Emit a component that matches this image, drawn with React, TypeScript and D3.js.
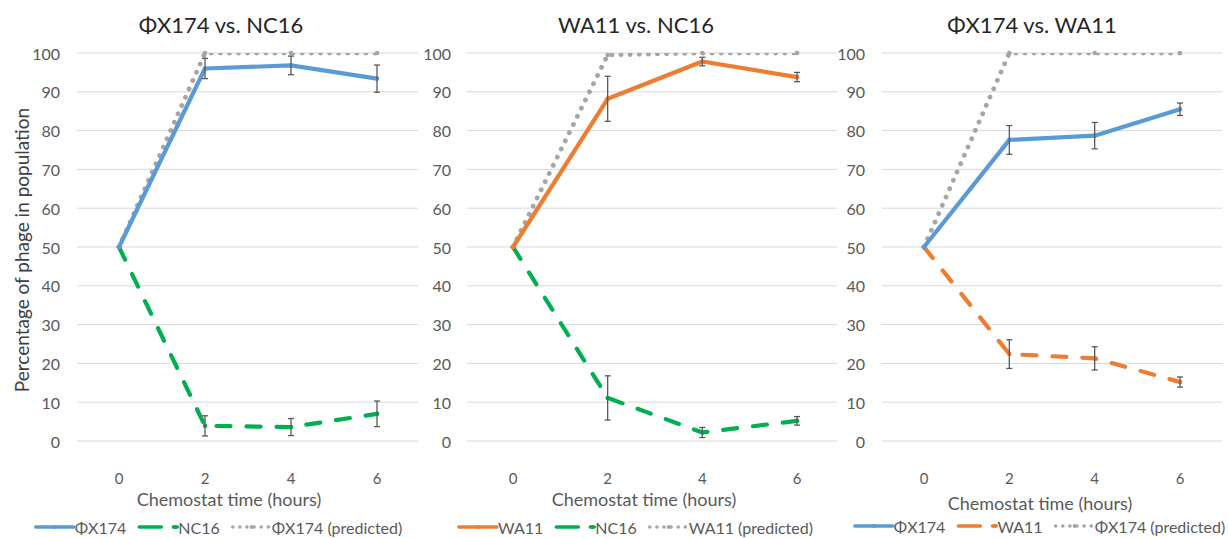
import React, { useEffect, useRef } from "react";
import * as d3 from "d3";

// chemostat time points (hours)
const times = ["0", "2", "4", "6"];
const yTicks = [0, 10, 20, 30, 40, 50, 60, 70, 80, 90, 100];

// panel 1: ΦX174 vs. NC16
const p1Phi = [50, 96, 96.8, 93.4];
const p1PhiErr = [0, 2.6, 2.4, 3.5];
const p1Nc = [50, 3.9, 3.6, 7.0];
const p1NcErr = [0, 2.6, 2.2, 3.3];
const p1Pred = [50, 100, 100, 100];

// panel 2: WA11 vs. NC16
const p2Wa = [50, 88.2, 97.8, 93.8];
const p2WaErr = [0, 5.8, 1.1, 1.2];
const p2Nc = [50, 11.1, 2.2, 5.2];
const p2NcErr = [0, 5.7, 1.3, 1.1];
const p2Pred = [50, 99.5, 100, 100];

// panel 3: ΦX174 vs. WA11
const p3Phi = [50, 77.6, 78.7, 85.5];
const p3PhiErr = [0, 3.7, 3.4, 1.6];
const p3Wa = [50, 22.4, 21.3, 15.2];
const p3WaErr = [0, 3.7, 3.0, 1.3];
const p3Pred = [50, 100, 100, 100];

const BLUE = "#5b9bd5";
const ORANGE = "#ed7d31";
const GREEN = "#00b050";
const GRAY = "#a5a5a5";
const FONT = "Lato, 'Open Sans', sans-serif";

const solid = { dash: null, cap: "round" };
const dashed = { dash: "14 16", cap: "round" };
const dotted = { dash: "0.1 9", cap: "round" };

const panels = [
  {
    title: "ΦX174 vs. NC16",
    x0: 119, x6: 377, gridL: 77, gridR: 418, labelX: 60, center: 221, legendCenter: 219,
    axisTitleY: 499, legendY: 527,
    series: [
      { name: "ΦX174", values: p1Phi, err: p1PhiErr, color: BLUE, ...solid },
      { name: "NC16", values: p1Nc, err: p1NcErr, color: GREEN, ...dashed },
      { name: "ΦX174 (predicted)", values: p1Pred, err: null, color: GRAY, ...dotted },
    ],
  },
  {
    title: "WA11 vs. NC16",
    x0: 513, x6: 797, gridL: 467, gridR: 837, labelX: 451, center: 636, legendCenter: 636,
    axisTitleY: 499, legendY: 527,
    series: [
      { name: "WA11", values: p2Wa, err: p2WaErr, color: ORANGE, ...solid },
      { name: "NC16", values: p2Nc, err: p2NcErr, color: GREEN, ...dashed },
      { name: "WA11 (predicted)", values: p2Pred, err: null, color: GRAY, ...dotted },
    ],
  },
  {
    title: "ΦX174 vs. WA11",
    x0: 924, x6: 1180, gridL: 882, gridR: 1222, labelX: 865, center: 1032, legendCenter: 1040,
    axisTitleY: 503, legendY: 526,
    series: [
      { name: "ΦX174", values: p3Phi, err: p3PhiErr, color: BLUE, ...solid },
      { name: "WA11", values: p3Wa, err: p3WaErr, color: ORANGE, ...dashed },
      { name: "ΦX174 (predicted)", values: p3Pred, err: null, color: GRAY, ...dotted },
    ],
  },
];

export default function App() {
  const ref = useRef<SVGSVGElement>(null);

  useEffect(() => {
    const svg = d3.select(ref.current);
    svg.selectAll("*").remove();

    const y = d3.scaleLinear().domain([0, 100]).range([441, 53]);

    // y axis title (only left panel)
    svg.append("text")
      .attr("transform", `translate(21, 250) rotate(-90)`)
      .attr("text-anchor", "middle")
      .attr("dominant-baseline", "central")
      .style("font-family", FONT).style("font-size", "19px").attr("fill", "#404040")
      .text("Percentage of phage in population");

    panels.forEach((p, pi) => {
      const g = svg.append("g");
      const x = d3.scalePoint().domain(times).range([p.x0, p.x6]);

      const clipId = `clip${pi}`;
      g.append("clipPath").attr("id", clipId)
        .append("rect").attr("x", p.gridL - 10).attr("y", y(100))
        .attr("width", p.gridR - p.gridL + 20).attr("height", 430);

      // gridlines
      g.selectAll(".grid").data(yTicks).join("line")
        .attr("x1", p.gridL).attr("x2", p.gridR)
        .attr("y1", d => y(d)).attr("y2", d => y(d))
        .attr("stroke", "#d9d9d9").attr("stroke-width", 1);

      // y tick labels
      g.selectAll(".ylab").data(yTicks).join("text")
        .attr("x", p.labelX).attr("y", d => y(d))
        .attr("text-anchor", "end").attr("dominant-baseline", "central")
        .style("font-family", FONT).style("font-size", "16px").attr("fill", "#595959")
        .text(d => d);

      // x tick labels
      g.selectAll(".xlab").data(times).join("text")
        .attr("x", d => x(d)).attr("y", 478)
        .attr("text-anchor", "middle").attr("dominant-baseline", "central")
        .style("font-family", FONT).style("font-size", "15px").attr("fill", "#595959")
        .text(d => d);

      // axis title
      g.append("text")
        .attr("x", p.center + 8).attr("y", p.axisTitleY)
        .attr("text-anchor", "middle").attr("dominant-baseline", "central")
        .style("font-family", FONT).style("font-size", "18px").attr("fill", "#595959")
        .text("Chemostat time (hours)");

      // chart title
      g.append("text")
        .attr("x", p.center).attr("y", 24)
        .attr("text-anchor", "middle").attr("dominant-baseline", "central")
        .style("font-family", FONT).style("font-size", "22px").attr("fill", "#262626")
        .text(p.title);

      const line = d3.line<number>().x((d, i) => x(times[i])!).y(d => y(d));

      // predicted drawn first, then the rest so the first series sits on top
      const order = [2, 1, 0];
      order.forEach(si => {
        const s = p.series[si];
        g.append("path")
          .attr("d", line(s.values))
          .attr("clip-path", `url(#${clipId})`)
          .attr("fill", "none").attr("stroke", s.color)
          .attr("stroke-width", si === 2 ? 4.8 : 4.2)
          .attr("stroke-linecap", s.cap).attr("stroke-linejoin", "round")
          .attr("stroke-dasharray", s.dash);
        g.selectAll(null).data(s.values).join("circle")
          .attr("cx", (d, i) => x(times[i])!).attr("cy", d => y(d))
          .attr("r", 2.3).attr("fill", s.color);
      });

      // error bars
      p.series.forEach(s => {
        if (!s.err) return;
        const eb = s.values.map((v, i) => ({ t: times[i], v, e: s.err![i] })).filter(d => d.e > 0);
        const eg = g.append("g").attr("stroke", "#595959").attr("stroke-width", 1.3);
        eg.selectAll(null).data(eb).join("line")
          .attr("x1", d => x(d.t)!).attr("x2", d => x(d.t)!)
          .attr("y1", d => y(d.v - d.e)).attr("y2", d => y(d.v + d.e));
        eg.selectAll(null).data(eb.flatMap(d => [d.v - d.e, d.v + d.e].map(v => ({ t: d.t, v }))))
          .join("line")
          .attr("x1", d => x(d.t)! - 3).attr("x2", d => x(d.t)! + 3)
          .attr("y1", d => y(d.v)).attr("y2", d => y(d.v));
      });

      // legend
      const lg = g.append("g");
      const sample = 38;
      let cursor = 0;
      p.series.forEach(s => {
        const ig = lg.append("g").attr("transform", `translate(${cursor},0)`);
        ig.append("line").attr("x1", 0).attr("x2", sample).attr("y1", 0).attr("y2", 0)
          .attr("stroke", s.color).attr("stroke-width", 3.5)
          .attr("stroke-linecap", s.cap)
          .attr("stroke-dasharray", s.dash === dashed.dash ? "22 12" : s.dash === dotted.dash ? "0.1 7" : null);
        ig.append("circle").attr("cx", s.dash === dashed.dash ? sample - 2 : sample / 2).attr("cy", 0)
          .attr("r", 2).attr("fill", s.color);
        const t = ig.append("text").attr("x", sample + 1).attr("y", 0)
          .attr("dominant-baseline", "central")
          .style("font-family", FONT).style("font-size", "16px").attr("fill", "#595959")
          .text(s.name);
        const tw = (t.node() as SVGTextElement).getComputedTextLength();
        cursor += sample + 1 + tw + 13;
      });
      const total = cursor - 13;
      lg.attr("transform", `translate(${p.legendCenter - total / 2}, ${p.legendY})`);
    });
  }, []);

  return (
    <svg ref={ref} width={1228} height={538} style={{ position: "absolute", left: 0, top: 0, background: "#fff" }} />
  );
}
